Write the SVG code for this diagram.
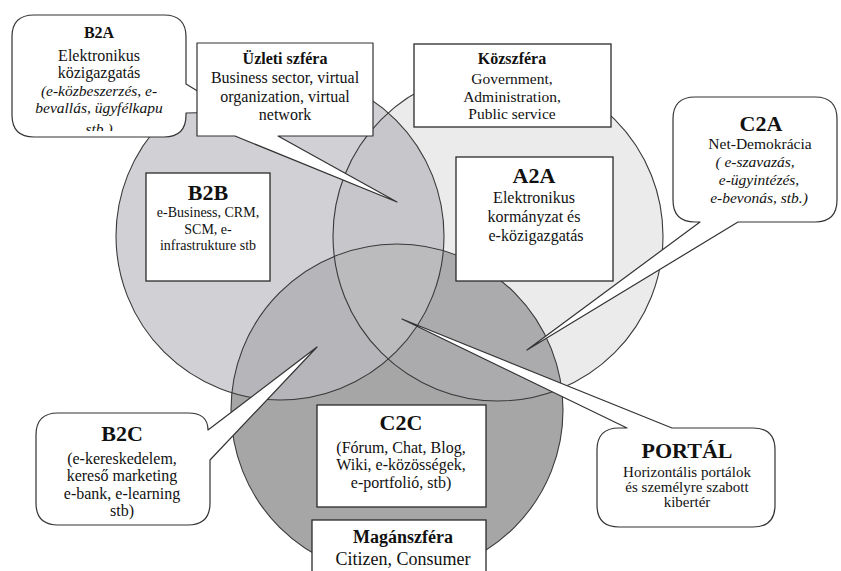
<svg xmlns="http://www.w3.org/2000/svg" width="841" height="571" viewBox="0 0 841 571">
<style>
text{font-family:"Liberation Serif","Times New Roman",serif;fill:#111;text-anchor:middle}
.b{font-weight:bold}
.t{font-weight:bold;font-size:22px}
.i{font-style:italic}
.box{fill:#fff;stroke:#2a2a2a;stroke-width:1.3}
.co{fill:#fff;stroke:#333;stroke-width:1.2;stroke-linejoin:round}
.ring{fill:none;stroke:#3a3a3a;stroke-width:1.1}
</style>
<defs>
<clipPath id="cL"><circle cx="280" cy="236" r="164"/></clipPath>
<clipPath id="cR"><circle cx="498" cy="236" r="165"/></clipPath>
<clipPath id="cB"><circle cx="397" cy="410" r="166"/></clipPath>
<clipPath id="cB2A"><rect x="12" y="15" width="174" height="116"/></clipPath>
</defs>
<rect width="841" height="571" fill="#fff"/>
<g id="venn">
<circle cx="498" cy="236" r="165" fill="#ebebeb"/>
<circle cx="280" cy="236" r="164" fill="#d1d1d5"/>
<circle cx="397" cy="410" r="166" fill="#a6a6a7"/>
<circle cx="498" cy="236" r="165" fill="#c7c7cb" clip-path="url(#cL)"/>
<circle cx="280" cy="236" r="164" fill="#b6b6ba" clip-path="url(#cB)"/>
<circle cx="498" cy="236" r="165" fill="#ababad" clip-path="url(#cB)"/>
<g clip-path="url(#cL)"><circle cx="498" cy="236" r="165" fill="#bbbbbe" clip-path="url(#cB)"/></g>
<circle class="ring" cx="498" cy="236" r="165"/>
<circle class="ring" cx="280" cy="236" r="164"/>
<circle class="ring" cx="397" cy="410" r="166" stroke="#4a4a4a"/>
</g>
<g id="connectors">
<path class="co" d="M34,15 H164 Q186,15 186,37 V84 L232,112 L186,113 V115 Q186,137 164,137 H34 Q12,137 12,115 V37 Q12,15 34,15 Z"/>
<path class="co" d="M197,43 H373 V136 H278 L397,202 L235,136 H197 Z"/>
<path class="co" d="M695,97 H815 Q837,97 837,119 V200 Q837,222 815,222 H738 L527,350 L700,222 H695 Q673,222 673,200 V119 Q673,97 695,97 Z"/>
<path class="co" d="M58,413 H188 Q208,413 208,430 L317,347 L210,460 V503 Q210,525 188,525 H58 Q36,525 36,503 V435 Q36,413 58,413 Z"/>
<path class="co" d="M619,428 H627 L402,319 L672,428 H753 Q775,428 775,450 V505 Q775,527 753,527 H619 Q597,527 597,505 V450 Q597,428 619,428 Z"/>
</g>
<g id="b2a">
<g clip-path="url(#cB2A)">
<text x="99" y="38" class="b" font-size="16">B2A</text>
<text x="99" y="60.5" font-size="16">Elektronikus</text>
<text x="99" y="77.5" font-size="16">közigazgatás</text>
<text x="99" y="95.5" font-size="15.5" class="i">(e-közbeszerzés, e-</text>
<text x="99" y="113" font-size="15.5" class="i">bevallás, ügyfélkapu</text>
<text x="99" y="134" font-size="15.5" class="i">stb )</text>
</g>
</g>
<g id="uzleti">
<text x="285" y="64" class="b" font-size="16">Üzleti szféra</text>
<text x="285" y="83" font-size="16">Business sector, virtual</text>
<text x="285" y="102" font-size="16">organization, virtual</text>
<text x="285" y="120" font-size="16">network</text>
</g>
<g id="kozszfera">
<rect class="box" x="414" y="44" width="197" height="83"/>
<text x="512" y="64" class="b" font-size="16">Közszféra</text>
<text x="512" y="84" font-size="15.5">Government,</text>
<text x="512" y="102" font-size="15.5">Administration,</text>
<text x="512" y="119" font-size="15.5">Public service</text>
</g>
<g id="c2a">
<text x="761" y="131" class="t">C2A</text>
<text x="760" y="148.5" font-size="15.5">Net-Demokrácia</text>
<text x="755" y="166.5" font-size="15.5" class="i">( e-szavazás,</text>
<text x="759" y="184.5" font-size="15.5" class="i">e-ügyintézés,</text>
<text x="759" y="202.5" font-size="15.5" class="i">e-bevonás, stb.)</text>
</g>
<g id="b2b">
<rect class="box" x="146" y="173" width="124" height="108"/>
<text x="208" y="200" class="t">B2B</text>
<text x="208" y="217" font-size="14">e-Business, CRM,</text>
<text x="208" y="233.5" font-size="14">SCM, e-</text>
<text x="208" y="250" font-size="14">infrastrukture stb</text>
</g>
<g id="a2a">
<rect class="box" x="456" y="157" width="157" height="124"/>
<text x="534" y="183" class="t">A2A</text>
<text x="534" y="202.5" font-size="16">Elektronikus</text>
<text x="534" y="221.5" font-size="16">kormányzat és</text>
<text x="536" y="240.5" font-size="16">e-közigazgatás</text>
</g>
<g id="b2c">
<text x="122" y="441" class="t">B2C</text>
<text x="122" y="463.5" font-size="16">(e-kereskedelem,</text>
<text x="122" y="481" font-size="16">kereső marketing</text>
<text x="122" y="498.5" font-size="16">e-bank, e-learning</text>
<text x="122" y="516" font-size="16">stb)</text>
</g>
<g id="c2c">
<rect class="box" x="317" y="405" width="169" height="102"/>
<text x="401" y="430" class="t">C2C</text>
<text x="401" y="452.5" font-size="16">(Fórum, Chat, Blog,</text>
<text x="401" y="470" font-size="16">Wiki, e-közösségek,</text>
<text x="401" y="487.5" font-size="16">e-portfolió, stb)</text>
</g>
<g id="portal">
<text x="687" y="458" class="t">PORTÁL</text>
<text x="687" y="477" font-size="15">Horizontális portálok</text>
<text x="687" y="492" font-size="15">és személyre szabott</text>
<text x="687" y="507" font-size="15">kibertér</text>
</g>
<g id="maganszfera">
<rect class="box" x="312" y="520" width="174" height="60"/>
<text x="403" y="543" class="b" font-size="18">Magánszféra</text>
<text x="403" y="565" font-size="18">Citizen, Consumer</text>
</g>
</svg>
